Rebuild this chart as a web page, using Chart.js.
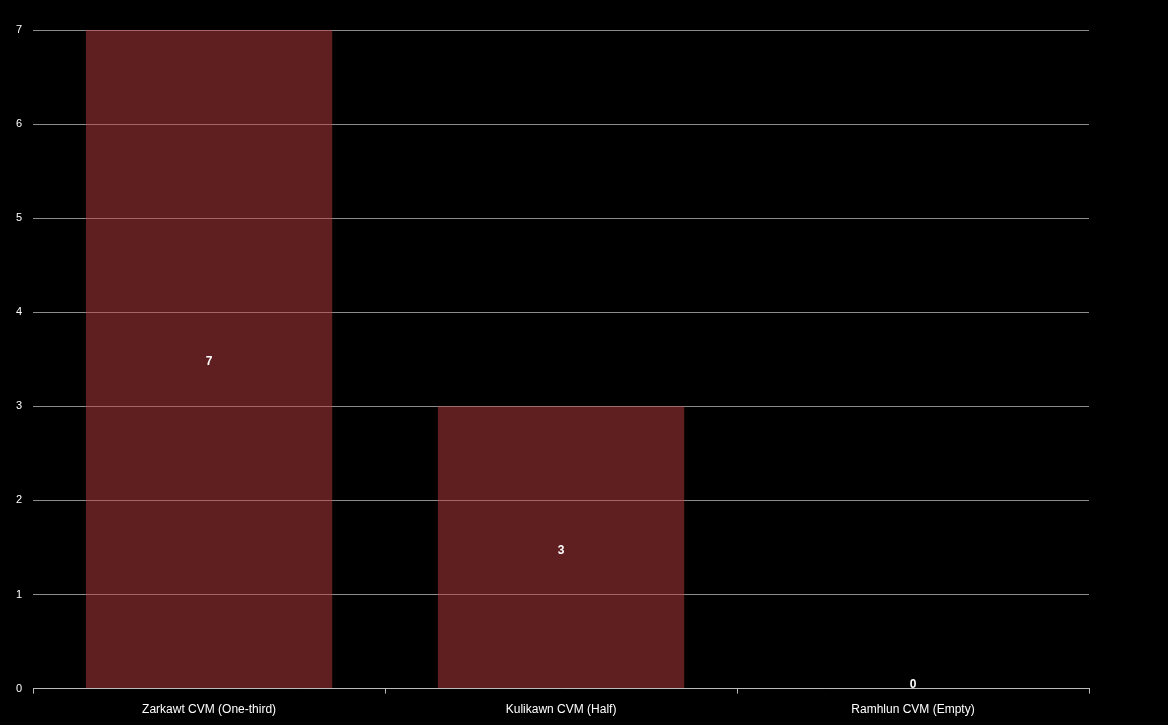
<!DOCTYPE html>
<html>
<head>
<meta charset="utf-8">
<script src="https://cdn.jsdelivr.net/npm/chart.js@4"></script>
<style>
  html, body { margin: 0; padding: 0; background: #000; overflow: hidden; }
  #wrap { width: 1168px; height: 727px; }
</style>
</head>
<body>
<div id="wrap"><canvas id="c"></canvas></div>
<script>
'use strict';

/* data */
const categories = ['Zarkawt CVM (One-third)', 'Kulikawn CVM (Half)', 'Ramhlun CVM (Empty)'];
const counts     = [7, 3, 0];
const yTicks     = [0, 1, 2, 3, 4, 5, 6, 7];

/* value labels in the middle of each bar */
const barLabels = {
  id: 'barLabels',
  afterDatasetsDraw(chart) {
    const ctx = chart.ctx;
    const meta = chart.getDatasetMeta(0);
    ctx.save();
    ctx.fillStyle = '#fff';
    ctx.font = 'bold 12px "Liberation Sans", Arial, sans-serif';
    ctx.textAlign = 'center';
    ctx.textBaseline = 'middle';
    meta.data.forEach((bar, i) => {
      const p = bar.getProps(['x', 'y', 'base'], true);
      let y = (p.y + p.base) / 2 + 3;
      y = Math.min(y, p.base - 4);
      ctx.fillText(String(counts[i]), p.x, y);
    });
    ctx.restore();
  }
};

Chart.defaults.font.family = '"Liberation Sans", Arial, sans-serif';
Chart.defaults.font.size = 11;
Chart.defaults.color = '#fff';

new Chart(document.getElementById('c'), {
  type: 'bar',
  data: {
    labels: categories,
    datasets: [{
      data: counts,
      backgroundColor: 'rgba(190,62,64,0.5)',
      borderWidth: 0,
      categoryPercentage: 0.7,
      barPercentage: 1
    }]
  },
  options: {
    responsive: true,
    maintainAspectRatio: false,
    animation: false,
    layout: { padding: { top: 30, right: 79, left: 5, bottom: 1 } },
    plugins: { legend: { display: false }, tooltip: { enabled: false } },
    scales: {
      x: {
        grid: { drawOnChartArea: false, drawTicks: true, tickLength: 5, color: '#bbb', offset: true },
        border: { color: '#bbb', width: 1 },
        ticks: { color: '#fff', padding: 9, font: { size: 12 } }
      },
      y: {
        min: 0, max: 7,
        afterBuildTicks: ax => { ax.ticks = yTicks.map(v => ({ value: v })); },
        grid: { color: 'rgba(255,255,255,0.55)', drawTicks: false },
        border: { display: false },
        ticks: { color: '#fff', padding: 11 }
      }
    }
  },
  plugins: [barLabels]
});
</script>
</body>
</html>
